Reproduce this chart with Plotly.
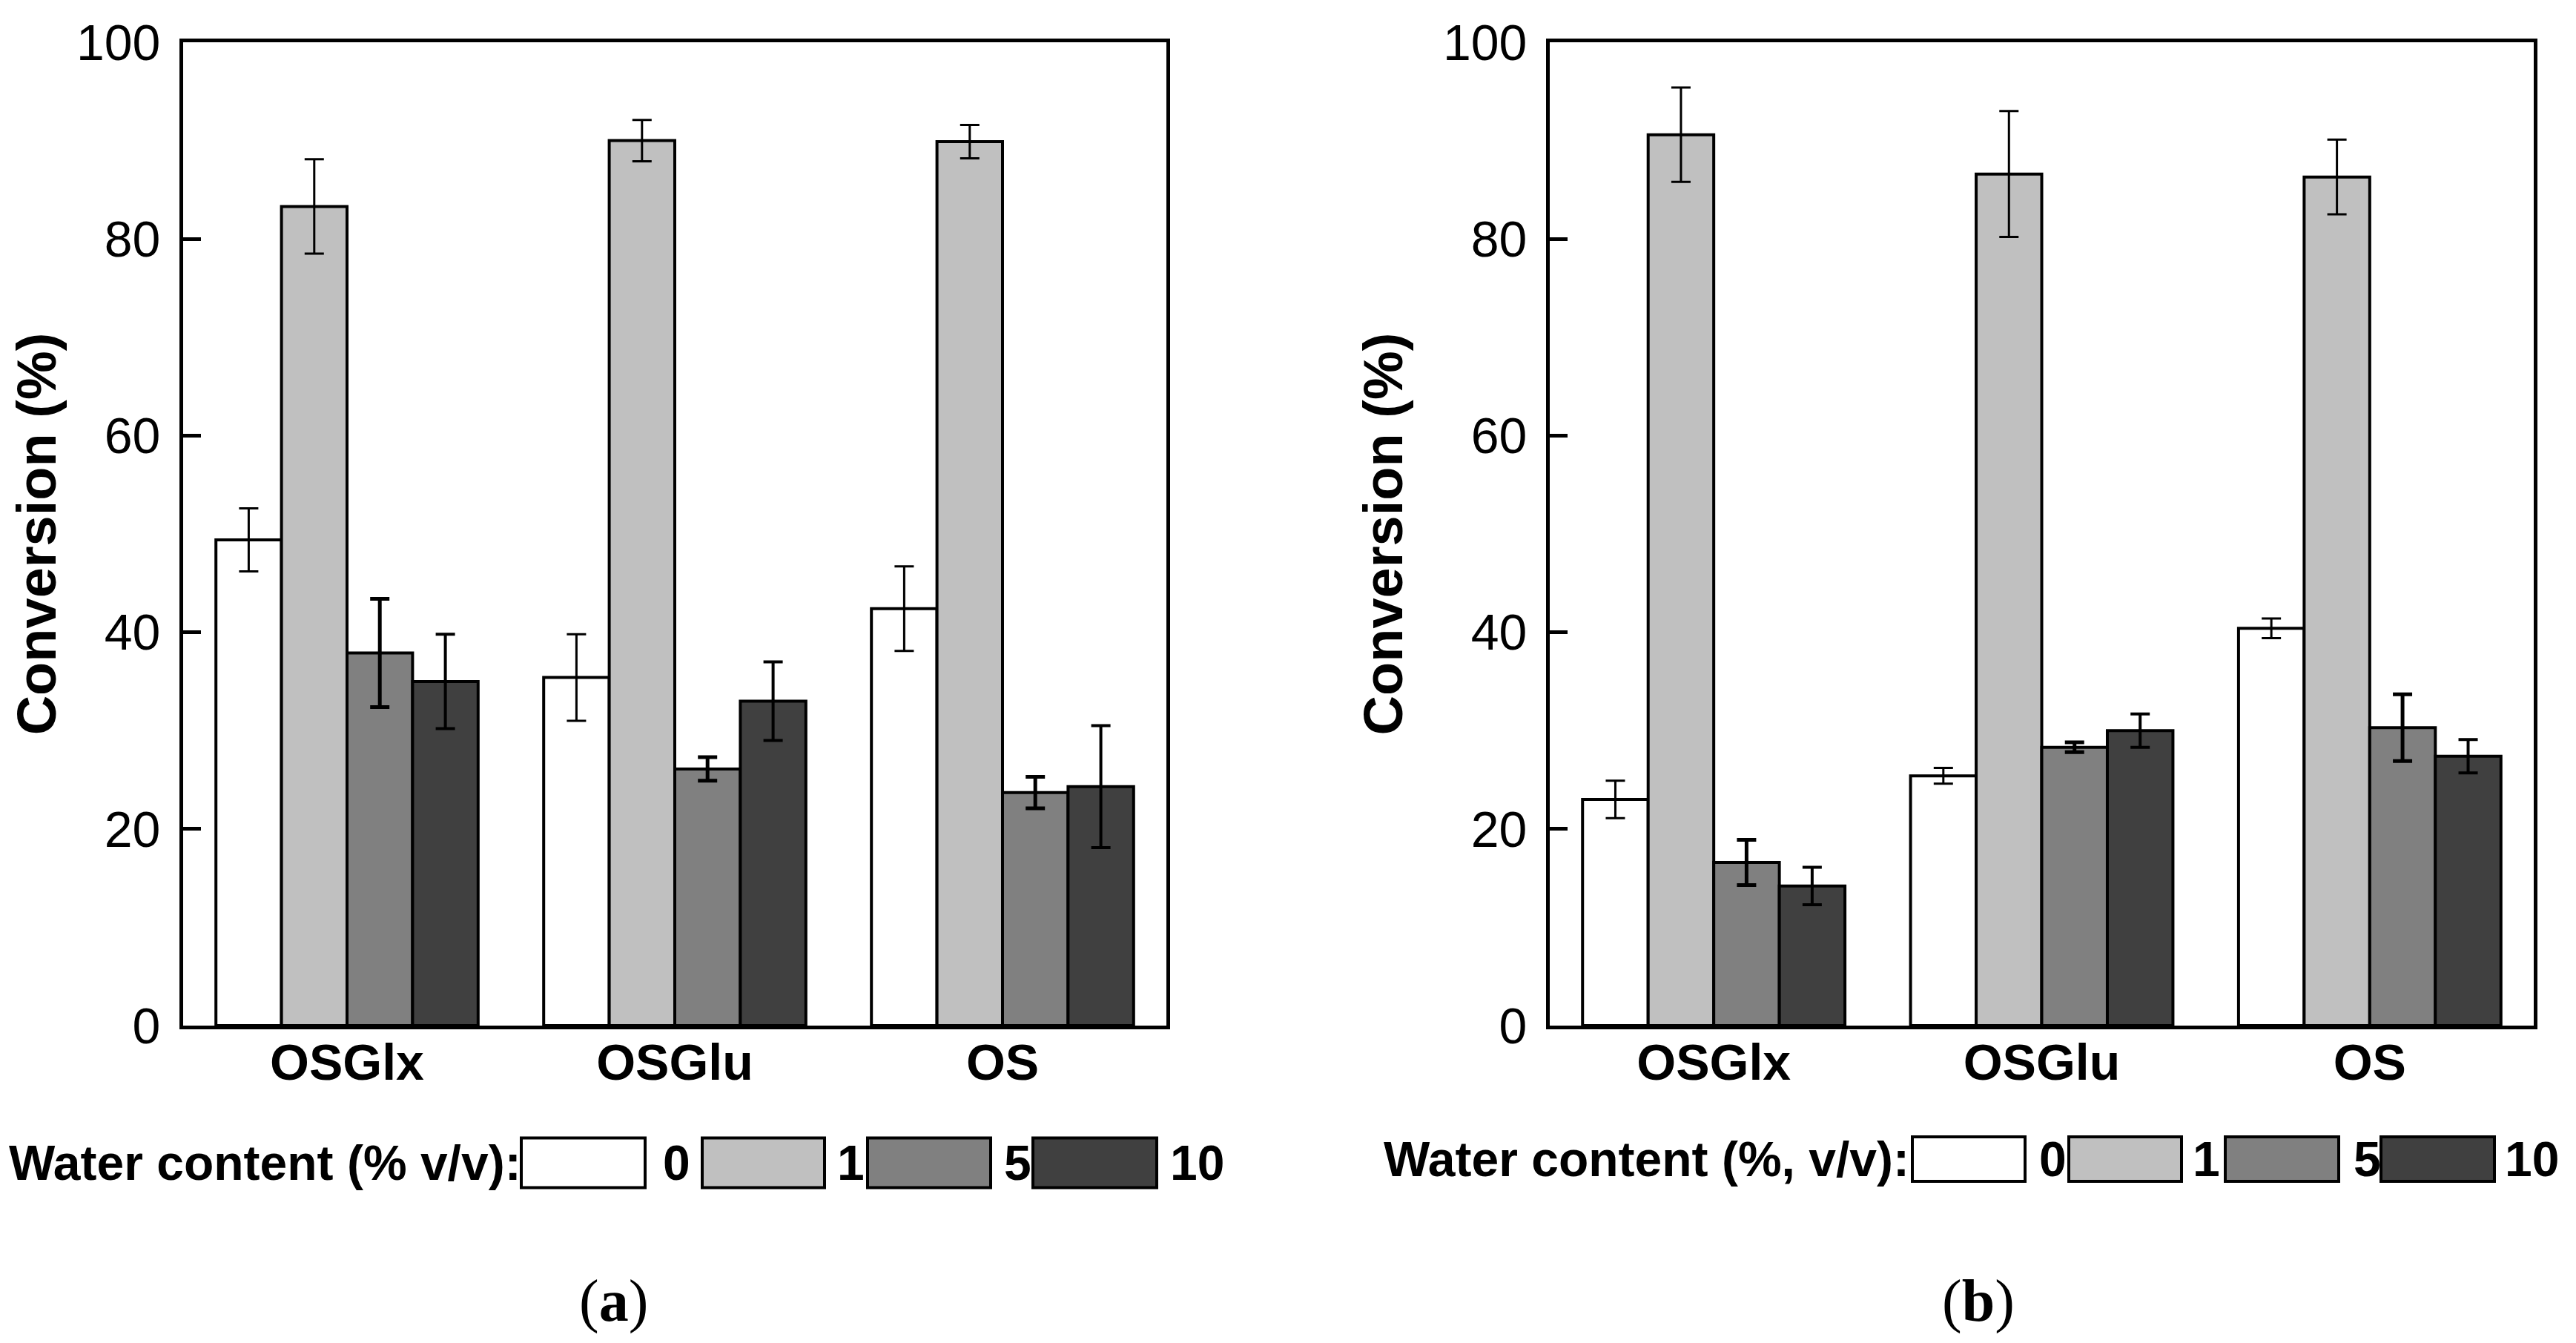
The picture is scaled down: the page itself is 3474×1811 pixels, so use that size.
import plotly.graph_objects as go

# ---------------- data ----------------
categories = ["OSGlx", "OSGlu", "OS"]
water_levels = ["0", "1", "5", "10"]

# panel (a) conversion (%) and error (+/-)
a_w0 = [49.4, 35.4, 42.4]
a_w1 = [83.3, 90.0, 89.9]
a_w5 = [37.9, 26.1, 23.7]
a_w10 = [35.0, 33.0, 24.3]
a_w0_err = [3.2, 4.4, 4.3]
a_w1_err = [4.8, 2.1, 1.7]
a_w5_err = [5.5, 1.2, 1.6]
a_w10_err = [4.8, 4.0, 6.2]

# panel (b)
b_w0 = [23.0, 25.4, 40.4]
b_w1 = [90.6, 86.6, 86.3]
b_w5 = [16.6, 28.3, 30.3]
b_w10 = [14.2, 30.0, 27.4]
b_w0_err = [1.9, 0.8, 1.0]
b_w1_err = [4.8, 6.4, 3.8]
b_w5_err = [2.3, 0.5, 3.4]
b_w10_err = [1.9, 1.7, 1.7]

y_ticks = [0, 20, 40, 60, 80, 100]
y_title = "Conversion (%)"
legend_title_a = "Water content (% v/v):"
legend_title_b = "Water content (%, v/v):"
panel_labels = ["(<b>a</b>)", "(<b>b</b>)"]

# ---------------- styles ----------------
fill_colors = ["#ffffff", "#c0c0c0", "#808080", "#404040"]
err_thickness = [3, 3, 5, 4]
W, H = 3474, 1811          # page size
OFF = 8                    # default page (body) margin
FW, FH = W - 2 * OFF, H - 2 * OFF
SANS = "Liberation Sans, Arial, sans-serif"
SERIF = "Liberation Serif, Times New Roman, serif"

panels = [
    ("x", "y", [a_w0, a_w1, a_w5, a_w10], [a_w0_err, a_w1_err, a_w5_err, a_w10_err]),
    ("x2", "y2", [b_w0, b_w1, b_w5, b_w10], [b_w0_err, b_w1_err, b_w5_err, b_w10_err]),
]

fig = go.Figure()
for xa, ya, vals, errs in panels:
    for i, lvl in enumerate(water_levels):
        fig.add_trace(go.Bar(
            x=categories, y=vals[i], name=lvl, xaxis=xa, yaxis=ya,
            marker=dict(color=fill_colors[i], line=dict(color="black", width=4)),
            error_y=dict(type="data", array=errs[i], visible=True, color="black",
                         thickness=err_thickness[i], width=13),
            showlegend=False, offsetgroup=lvl,
        ))

# ---------------- layout ----------------
def px_x(v):
    return (v - OFF) / FW

def px_y(v):
    return (FH - (v - OFF)) / FH

y_dom = [px_y(1383), px_y(57)]
axis_common = dict(showline=True, linewidth=5, linecolor="black", mirror=True,
                   showgrid=False, zeroline=False, automargin=False)
xaxis_common = dict(axis_common, ticks="", tickfont=dict(family=SANS, size=68, color="black", weight="bold"),
                    ticklabelstandoff=-14)
yaxis_common = dict(axis_common, range=[0, 100], tickvals=y_ticks, ticks="inside", ticklen=24,
                    tickwidth=5, tickcolor="black",
                    tickfont=dict(family=SANS, size=68, color="black"),
                    ticklabelstandoff=12,
                    title=dict(text=y_title, font=dict(family=SANS, size=74, color="black", weight="bold"),
                               standoff=32))

fig.update_layout(
    template="none",
    width=FW, height=FH,
    margin=dict(l=0, r=0, t=0, b=0, autoexpand=False),
    paper_bgcolor="white", plot_bgcolor="white",
    barmode="group", bargap=0.2, bargroupgap=0,
    showlegend=False,
    xaxis=dict(xaxis_common, domain=[px_x(247), px_x(1573)], anchor="y"),
    yaxis=dict(yaxis_common, domain=y_dom, anchor="x"),
    xaxis2=dict(xaxis_common, domain=[px_x(2090), px_x(3417)], anchor="y2"),
    yaxis2=dict(yaxis_common, domain=y_dom, anchor="x2"),
)

# ---------------- custom legends (swatches + labels) ----------------
legend_specs = [
    dict(title=legend_title_a, text_x=10, yc=1568, bh=67,
         boxes=[(703, 870), (947, 1112), (1170, 1336), (1393, 1560)],
         labels=[892, 1127, 1352, 1576]),
    dict(title=legend_title_b, text_x=1864, yc=1563, bh=60,
         boxes=[(2579, 2731), (2790, 2942), (3001, 3154), (3211, 3364)],
         labels=[2748, 2955, 3172, 3376]),
]
shapes = []
annotations = []
for spec in legend_specs:
    annotations.append(dict(text=spec["title"], x=px_x(spec["text_x"]), y=px_y(spec["yc"]),
                            xref="paper", yref="paper", xanchor="left", yanchor="middle",
                            showarrow=False,
                            font=dict(family=SANS, size=66, color="black", weight="bold")))
    for i, (x0, x1) in enumerate(spec["boxes"]):
        shapes.append(dict(type="rect", xref="paper", yref="paper",
                           x0=px_x(x0), x1=px_x(x1),
                           y0=px_y(spec["yc"] + spec["bh"] / 2), y1=px_y(spec["yc"] - spec["bh"] / 2),
                           fillcolor=fill_colors[i], line=dict(color="black", width=4)))
        annotations.append(dict(text=water_levels[i], x=px_x(spec["labels"][i]), y=px_y(spec["yc"]),
                                xref="paper", yref="paper", xanchor="left", yanchor="middle",
                                showarrow=False,
                                font=dict(family=SANS, size=66, color="black", weight="bold")))

for lbl, xc in zip(panel_labels, [827, 2668]):
    annotations.append(dict(text=lbl, x=px_x(xc), y=px_y(1754), xref="paper", yref="paper",
                            xanchor="center", yanchor="middle", showarrow=False,
                            font=dict(family=SERIF, size=80, color="black")))

fig.update_layout(shapes=shapes, annotations=annotations)
fig.write_html("out.html")
